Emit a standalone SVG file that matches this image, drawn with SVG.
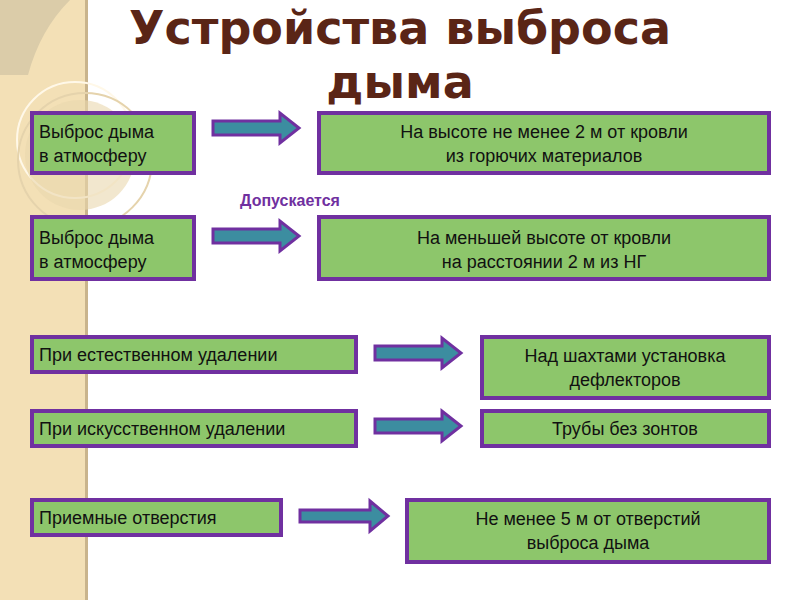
<svg xmlns="http://www.w3.org/2000/svg" width="800" height="600" viewBox="0 0 800 600">
<style>
.b{fill:#8DC66B;stroke:#7030A0;stroke-width:4}
.a{fill:#3C8DA0;stroke:#7030A0;stroke-width:3;stroke-linejoin:miter}
.t{font-family:"Liberation Sans",Arial,sans-serif;font-size:18px;fill:#111}
.c{text-anchor:middle}
</style>
<rect width="800" height="600" fill="#fff"/>
<rect x="0" y="0" width="87" height="600" fill="#F3E0B6"/>
<rect x="85" y="0" width="3" height="600" fill="#C9B48C"/>
<path d="M0 0H70Q40 30 28 75H0Z" fill="#D5C7A6" opacity="0.8"/>
<circle cx="75" cy="140" r="58" fill="none" stroke="#FFF8E8" stroke-width="2"/>
<circle cx="85" cy="160" r="67" fill="none" stroke="#E5D3AC" stroke-width="2"/>
<circle cx="80" cy="155" r="55" fill="#EAD7AE" opacity="0.6"/>
<g id="title" font-family="'DejaVu Sans',sans-serif" font-weight="bold" font-size="46" fill="#5A2516" text-anchor="middle">
<text x="400" y="44">Устройства выброса</text>
<text x="400" y="98">дыма</text>
</g>
<g id="n1"><rect class="b" x="32" y="113" width="162" height="60"/><text class="t" x="39" y="138">Выброс дыма</text><text class="t" x="39" y="162">в атмосферу</text></g>
<g id="n2"><rect class="b" x="319" y="113" width="450" height="60"/><text class="t c" x="544" y="138">На высоте не менее 2 м от кровли</text><text class="t c" x="544" y="162">из горючих материалов</text></g>
<text id="allow" x="290" y="206" text-anchor="middle" font-family="'Liberation Sans',Arial,sans-serif" font-weight="bold" font-size="16" fill="#7030A0">Допускается</text>
<g id="n3"><rect class="b" x="32" y="217" width="162" height="62"/><text class="t" x="39" y="244">Выброс дыма</text><text class="t" x="39" y="268">в атмосферу</text></g>
<g id="n4"><rect class="b" x="319" y="217" width="450" height="62"/><text class="t c" x="544" y="244">На меньшей высоте от кровли</text><text class="t c" x="544" y="268">на расстоянии 2 м из НГ</text></g>
<g id="n5"><rect class="b" x="32" y="337" width="324" height="35"/><text class="t" x="39" y="361">При естественном удалении</text></g>
<g id="n6"><rect class="b" x="482" y="337" width="287" height="61"/><text class="t c" x="625" y="362">Над шахтами установка</text><text class="t c" x="625" y="386">дефлекторов</text></g>
<g id="n7"><rect class="b" x="32" y="411" width="324" height="35"/><text class="t" x="39" y="435">При искусственном удалении</text></g>
<g id="n8"><rect class="b" x="482" y="411" width="287" height="35"/><text class="t c" x="625" y="435">Трубы без зонтов</text></g>
<g id="n9"><rect class="b" x="32" y="500" width="249" height="35"/><text class="t" x="39" y="524">Приемные отверстия</text></g>
<g id="n10"><rect class="b" x="407" y="500" width="362" height="62"/><text class="t c" x="588" y="525">Не менее 5 м от отверстий</text><text class="t c" x="588" y="549">выброса дыма</text></g>
<g id="connectors">
<path class="a" d="M213 121H280V113L299 128L280 143V135H213Z"/>
<path class="a" d="M213 229H280V221L299 236L280 251V243H213Z"/>
<path class="a" d="M375 346H442V338L461 353L442 368V360H375Z"/>
<path class="a" d="M375 419H442V411L461 426L442 441V433H375Z"/>
<path class="a" d="M300 510H370V501L388 516L370 531V522H300Z"/>
</g>
</svg>
